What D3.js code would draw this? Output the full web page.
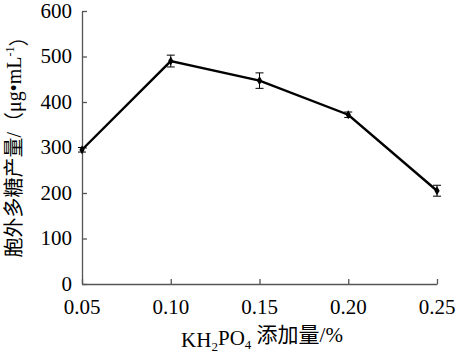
<!DOCTYPE html>
<html>
<head>
<meta charset="utf-8">
<script src="https://cdn.jsdelivr.net/npm/d3@7"></script>
<style>
  body { margin: 0; background: #fff; }
  svg text { font-family: "Liberation Serif", "Times New Roman", Times, "Noto Sans CJK SC", serif; fill: #000; }
</style>
</head>
<body>
<svg id="chart"></svg>
<script>
const width = 459;
const height = 353;

// data
const doses = [0.05, 0.10, 0.15, 0.20, 0.25];
const yields = [295, 490, 447, 372, 205];
const errors = [5, 13, 17, 6, 12];
const yTicks = [0, 100, 200, 300, 400, 500, 600];

const margin = { top: 11, bottom: 69, left: 82, right: 22 };
const serif = "'Liberation Serif', 'Times New Roman', serif";

const svg = d3.select("svg#chart")
  .attr("width", width)
  .attr("height", height);

const x = d3.scaleLinear()
  .domain([0.05, 0.25])
  .range([margin.left, width - margin.right]);

const y = d3.scaleLinear()
  .domain([0, 600])
  .range([height - margin.bottom, margin.top]);

// x axis, ticks pointing up
const xAxis = svg.append("g")
  .attr("transform", "translate(0," + y(0) + ")")
  .call(d3.axisTop(x).tickValues(doses).tickSize(5).tickSizeOuter(0));
xAxis.selectAll("text").remove();
xAxis.selectAll("line, path").attr("stroke", "#555").attr("stroke-width", 1.3);

svg.append("g").selectAll("text")
  .data(doses)
  .enter()
  .append("text")
  .attr("x", d => x(d))
  .attr("y", y(0) + 30)
  .attr("text-anchor", "middle")
  .style("font-family", serif)
  .style("font-size", "21px")
  .text(d3.format(".2f"));

// y axis, ticks pointing right
const yAxis = svg.append("g")
  .attr("transform", "translate(" + x(0.05) + ",0)")
  .call(d3.axisRight(y).tickValues(yTicks).tickSize(5).tickSizeOuter(0));
yAxis.selectAll("text").remove();
yAxis.selectAll("line, path").attr("stroke", "#555").attr("stroke-width", 1.3);

svg.append("g").selectAll("text")
  .data(yTicks)
  .enter()
  .append("text")
  .attr("x", x(0.05) - 10)
  .attr("y", d => y(d))
  .attr("dy", "0.33em")
  .attr("text-anchor", "end")
  .style("font-family", serif)
  .style("font-size", "21px")
  .text(d => d);

// y title
const yTitle = svg.append("g")
  .attr("transform", "translate(14,142)")
  .append("text")
  .attr("transform", "rotate(-90)")
  .attr("text-anchor", "middle")
  .attr("dy", "0.35em")
  .style("font-family", serif + ", 'Noto Sans CJK SC'")
  .style("font-size", "20px");
yTitle.append("tspan").text("胞外多糖产量/（μg•mL");
yTitle.append("tspan").attr("dy", "-0.6em").style("font-size", "12px").text("-1");
yTitle.append("tspan").attr("dy", "0.6em").text("）");

// x title
const xTitle = svg.append("text")
  .attr("x", 262)
  .attr("y", 347)
  .attr("text-anchor", "middle")
  .style("font-family", serif + ", 'Noto Sans CJK SC'")
  .style("font-size", "21px");
xTitle.append("tspan").text("KH");
xTitle.append("tspan").attr("dy", "0.3em").style("font-size", "13px").text("2");
xTitle.append("tspan").attr("dy", "-0.3em").text("PO");
xTitle.append("tspan").attr("dy", "0.3em").style("font-size", "13px").text("4");
xTitle.append("tspan").attr("dy", "-0.3em").text(" 添加量/%");

// line
const line = d3.line()
  .x((d, i) => x(doses[i]))
  .y(d => y(d));

svg.append("path")
  .datum(yields)
  .attr("fill", "none")
  .attr("stroke", "#000")
  .attr("stroke-width", 2.4)
  .attr("d", line);

// error bars
const bars = svg.append("g").attr("stroke", "#000").attr("stroke-width", 1);
doses.forEach((d, i) => {
  const cx = x(d);
  const top = y(yields[i] + errors[i]);
  const bot = y(yields[i] - errors[i]);
  bars.append("line").attr("x1", cx).attr("x2", cx).attr("y1", top).attr("y2", bot);
  bars.append("line").attr("x1", cx - 4).attr("x2", cx + 4).attr("y1", top).attr("y2", top);
  bars.append("line").attr("x1", cx - 4).attr("x2", cx + 4).attr("y1", bot).attr("y2", bot);
});

// diamond markers
svg.append("g").selectAll("path")
  .data(yields)
  .enter()
  .append("path")
  .attr("transform", (d, i) => "translate(" + x(doses[i]) + "," + y(d) + ")")
  .attr("d", d3.symbol(d3.symbolDiamond, 24))
  .attr("fill", "#000");
</script>
</body>
</html>
